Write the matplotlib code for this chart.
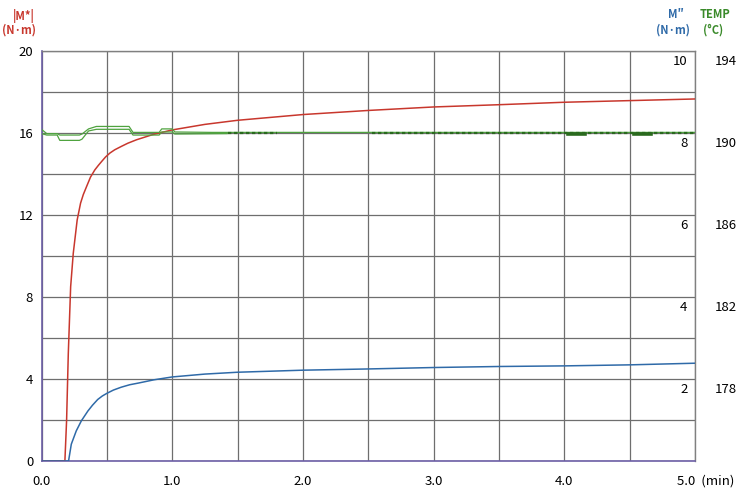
import matplotlib
matplotlib.use('Agg')
import matplotlib.pyplot as plt

plt.rcParams['font.family'] = ['Noto Sans CJK JP', 'DejaVu Sans']

# |M*| (N·m), red, left scale
m_t = [0, 0.179, 0.192, 0.205, 0.223, 0.243, 0.273, 0.299, 0.32, 0.345, 0.375, 0.408,
       0.435, 0.46, 0.49, 0.523, 0.56, 0.612, 0.66, 0.727, 0.85, 1.0, 1.25, 1.5,
       2.0, 2.5, 3.0, 3.5, 4.0, 4.5, 5.0]
m_star = [0, 0, 1.98, 5.24, 8.5, 10.13, 11.76, 12.58, 13.0, 13.39, 13.85, 14.2,
          14.42, 14.61, 14.83, 15.02, 15.18, 15.35, 15.5, 15.67, 15.92, 16.15, 16.42, 16.62,
          16.9, 17.1, 17.27, 17.38, 17.5, 17.58, 17.66]

# M'' (N·m), blue, inner right scale
m2_t = [0, 0.207, 0.228, 0.266, 0.305, 0.355, 0.39, 0.43, 0.465, 0.5, 0.55, 0.61,
        0.675, 0.74, 0.86, 1.0, 1.25, 1.5, 2.0, 2.5, 3.0, 3.5, 4.0, 4.5, 5.0]
m2 = [0, 0, 0.41, 0.735, 0.98, 1.22, 1.36, 1.5, 1.585, 1.65, 1.73, 1.8,
      1.86, 1.9, 1.98, 2.05, 2.12, 2.165, 2.215, 2.245, 2.28, 2.305, 2.32, 2.345, 2.385]

# TEMP (°C), green, outer right scale (upper and lower trace)
temp_t = [0, 0.04, 0.12, 0.14, 0.29, 0.31, 0.36, 0.42, 0.67, 0.70, 0.9, 0.92,
          1.0, 1.02, 1.3, 5.0]
temp_hi = [190.18, 189.97, 189.97, 189.9, 189.9, 189.95, 190.2, 190.32, 190.32, 190.03,
           190.03, 190.2, 190.2, 190.05, 190.03, 190.03]
temp_lo_t = [0, 0.04, 0.12, 0.14, 0.29, 0.31, 0.36, 0.42, 0.67, 0.70, 0.9, 0.92,
             1.0, 1.02, 1.42]
temp_lo = [189.97, 189.9, 189.9, 189.64, 189.64, 189.7, 190.1, 190.18, 190.18, 189.9,
           189.9, 190.05, 190.05, 189.95, 189.97]
# noisy stretches of the temperature trace
noise_spans = [(1.43, 1.80), (2.53, 5.0)]
blob_spans = [(4.03, 4.16), (4.53, 4.66)]

x_ticks = [0, 1, 2, 3, 4]
x_labels = ['0.0', '1.0', '2.0', '3.0', '4.0']
left_ticks = [0, 4, 8, 12, 16, 20]
m2_ticks = [2, 4, 6, 8, 10]
temp_ticks = [178, 182, 186, 190, 194]

RED = '#c8372d'
BLUE = '#2f6aa8'
GREEN = '#4fa33f'
DKGREEN = '#2a6a1e'
AXPURPLE = '#6c5fa6'
GRIDC = '#6e6e6e'

W, H = 743, 493
fig = plt.figure(figsize=(7.43, 4.93), dpi=100)
fig.patch.set_facecolor('white')
ax = fig.add_axes([41.5 / W, 1 - 461 / H, 653.5 / W, 410 / H])

ax.set_xlim(0, 5)
ax.set_ylim(0, 20)
ax.set_xticks([i * 0.5 for i in range(11)])
ax.set_xticklabels([''] * 11)
ax.set_yticks(list(range(0, 21, 2)))
ax.set_yticklabels([str(v) if v in left_ticks else '' for v in range(0, 21, 2)], fontsize=9.5)
ax.tick_params(axis='both', length=0)
ax.tick_params(axis='y', pad=6)
ax.grid(True, color=GRIDC, lw=0.9)
ax.set_axisbelow(True)
for s in ['left', 'bottom']:
    ax.spines[s].set_color(AXPURPLE)
    ax.spines[s].set_linewidth(1.2)
for s in ['top', 'right']:
    ax.spines[s].set_color('#808080')
    ax.spines[s].set_linewidth(1.0)

for xv, lab in zip(x_ticks, x_labels):
    ax.annotate(lab, xy=(xv, 0), xycoords=('data', 'axes fraction'),
                xytext=(0, -10), textcoords='offset points', ha='center', va='top', fontsize=9.5)
ax.annotate('5.0  (min)', xy=(5, 0), xycoords=('data', 'axes fraction'),
            xytext=(-13, -10), textcoords='offset points', ha='left', va='top', fontsize=9.5,
            annotation_clip=False)

ax.plot(m_t, m_star, color=RED, lw=1.1, zorder=4)

ax2 = ax.twinx()
ax2.set_ylim(0, 10)
ax2.set_yticks([])
for s in ax2.spines.values():
    s.set_visible(False)
ax2.plot(m2_t, m2, color=BLUE, lw=1.1, zorder=4)
for v in m2_ticks:
    ax2.annotate(str(v), xy=(1, v), xycoords=('axes fraction', 'data'),
                 xytext=(-5.5, -3), textcoords='offset points', ha='right', va='top', fontsize=9.5)

ax3 = ax.twinx()
ax3.set_ylim(174, 194)
ax3.set_yticks([])
for s in ax3.spines.values():
    s.set_visible(False)
ax3.plot(temp_t, temp_hi, color=GREEN, lw=0.9, zorder=3)
ax3.plot(temp_lo_t, temp_lo, color=GREEN, lw=0.9, zorder=3)
for a, b in noise_spans:
    ax3.plot([a, b], [190.0, 190.0], color=DKGREEN, lw=1.6, ls=(0, (1.5, 1.2)), zorder=3)
for a, b in blob_spans:
    ax3.plot([a, b], [189.97, 189.97], color=DKGREEN, lw=2.6, zorder=3)
for v in temp_ticks:
    ax3.annotate(str(v), xy=(1, v), xycoords=('axes fraction', 'data'),
                 xytext=(14.5, -3), textcoords='offset points', ha='left', va='top', fontsize=9.5,
                 annotation_clip=False)

# unit headers
fig.text(23.5 / W, 1 - 16 / H, '|M*|', color=RED, fontsize=8, fontweight='bold', ha='center', va='center')
fig.text(19 / W, 1 - 30 / H, '(N·m)', color=RED, fontsize=8, fontweight='bold', ha='center', va='center')
fig.text(676 / W, 1 - 15 / H, 'M″', color=BLUE, fontsize=8, fontweight='bold', ha='center', va='center')
fig.text(673 / W, 1 - 30 / H, '(N·m)', color=BLUE, fontsize=8, fontweight='bold', ha='center', va='center')
fig.text(714.5 / W, 1 - 15 / H, 'TEMP', color='#3a8a2a', fontsize=8, fontweight='bold', ha='center', va='center')
fig.text(713 / W, 1 - 30 / H, '(°C)', color='#3a8a2a', fontsize=8, fontweight='bold', ha='center', va='center')

fig.savefig('out.png', dpi=100, facecolor='white')
